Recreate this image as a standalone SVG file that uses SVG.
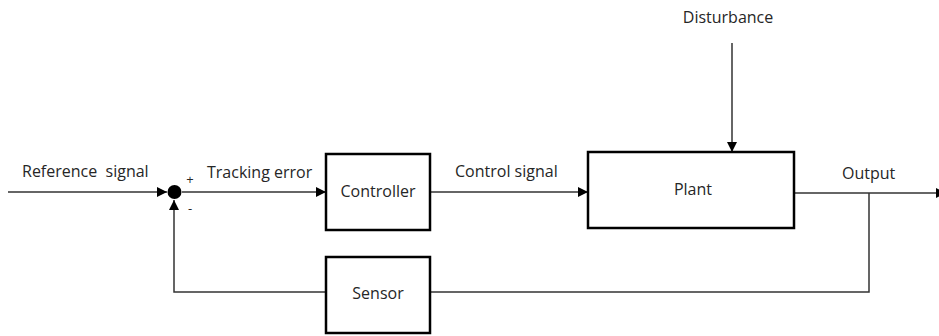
<svg xmlns="http://www.w3.org/2000/svg" width="939" height="336" viewBox="0 0 939 336">
<style>
.box{fill:#fff;stroke:#000;stroke-width:2.5}
.ln{fill:none;stroke:#333;stroke-width:1.5}
text{font-family:"Open Sans","Noto Sans",sans-serif;font-size:16px;fill:#262626}
.c{text-anchor:middle}
</style>
<defs>
<marker id="ah" viewBox="0 0 10 10" refX="10" refY="5" markerWidth="10" markerHeight="10" markerUnits="userSpaceOnUse" orient="auto">
<path d="M0,0 L10,5 L0,10 z" fill="#000"/>
</marker>
</defs>
<rect width="939" height="336" fill="#fff"/>
<g id="connectors">
<line class="ln" x1="8" y1="192" x2="167" y2="192" marker-end="url(#ah)"/>
<line class="ln" x1="182" y1="192" x2="326" y2="192" marker-end="url(#ah)"/>
<line class="ln" x1="430" y1="192" x2="588" y2="192" marker-end="url(#ah)"/>
<line class="ln" x1="732" y1="43" x2="732" y2="152" marker-end="url(#ah)"/>
<line class="ln" x1="794" y1="193" x2="939" y2="193"/>
<path d="M936,188 L946,193 L936,198 z" fill="#000"/>
<polyline class="ln" points="869,193 869,292 430,292"/>
<polyline class="ln" points="326,292 174,292 174,200" marker-end="url(#ah)"/>
</g>
<g id="sum">
<circle cx="174.5" cy="192" r="7" fill="#000"/>
<text x="190" y="184" class="c" style="font-size:13px">+</text>
<text x="190" y="213" class="c" style="font-size:13px">-</text>
</g>
<g id="controller">
<rect class="box" x="326" y="154" width="104" height="76"/>
<text x="378" y="197" class="c">Controller</text>
</g>
<g id="plant">
<rect class="box" x="588" y="152" width="206" height="76"/>
<text x="693" y="195" class="c">Plant</text>
</g>
<g id="sensor">
<rect class="box" x="326" y="257" width="104" height="76"/>
<text x="378" y="299" class="c">Sensor</text>
</g>
<g id="labels">
<text x="22" y="177" xml:space="preserve" style="white-space:pre">Reference  signal</text>
<text x="207" y="178">Tracking error</text>
<text x="455" y="177">Control signal</text>
<text x="842" y="179">Output</text>
<text x="728" y="23" class="c">Disturbance</text>
</g>
</svg>
